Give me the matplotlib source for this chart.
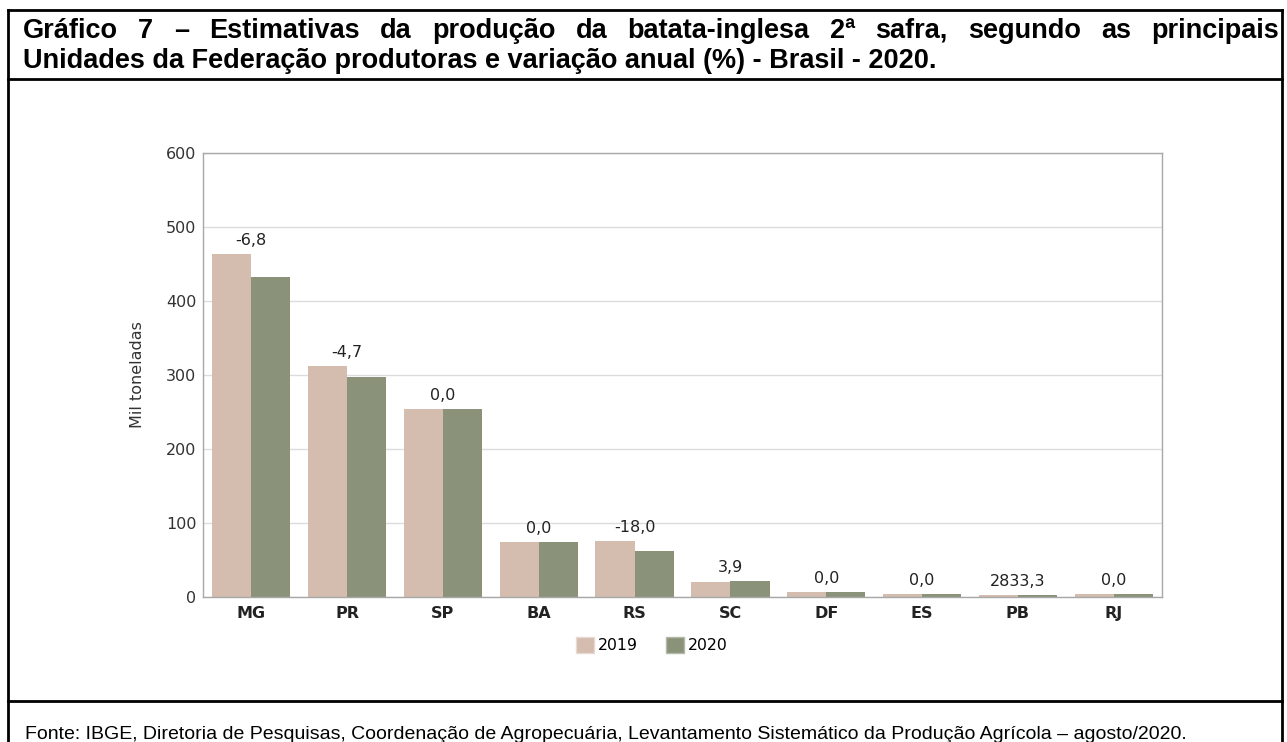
import numpy as np
import matplotlib.pyplot as plt
from matplotlib.patches import Patch
from matplotlib.lines import Line2D

# data (mil toneladas)
ufs = ['MG', 'PR', 'SP', 'BA', 'RS', 'SC', 'DF', 'ES', 'PB', 'RJ']
prod_2019 = [464.0, 313.0, 255.0, 74.3, 76.5, 20.8, 7.2, 4.0, 3.4, 4.0]
prod_2020 = [432.5, 298.3, 255.0, 74.3, 62.7, 21.6, 7.2, 4.0, 3.5, 4.0]
variacao = ['-6,8', '-4,7', '0,0', '0,0', '-18,0', '3,9', '0,0', '0,0', '2833,3', '0,0']

title_l1 = 'Gráfico 7 – Estimativas da produção da batata-inglesa 2ª safra, segundo as principais'
title_l2 = 'Unidades da Federação produtoras e variação anual (%) - Brasil - 2020.'
fonte = ('Fonte: IBGE, Diretoria de Pesquisas, Coordenação de Agropecuária, '
         'Levantamento Sistemático da Produção Agrícola – agosto/2020.')

c2019 = '#D4BCAF'
c2020 = '#8A937A'

W, H = 1287, 742
fig = plt.figure(figsize=(W / 100, H / 100), dpi=100)
plt.rcParams['font.family'] = ['DejaVu Sans']
title_fam = 'Liberation Sans'


def fx(px):
    return px / W


def fy(py):
    return (H - py) / H


# outer box lines
lw_box = 2.0
for (x0, y0, x1, y1) in [(8, 10, 1282, 10), (8, 79, 1282, 79), (8, 701, 1282, 701),
                         (8, 10, 8, H + 5), (1282, 10, 1282, H + 5)]:
    fig.add_artist(Line2D([fx(x0), fx(x1)], [fy(y0), fy(y1)], color='black',
                          lw=lw_box, solid_capstyle='projecting'))

renderer = fig.canvas.get_renderer()


def text_w(s, fs):
    t = fig.text(0, 0, s, fontsize=fs, weight='bold', family=title_fam)
    w = t.get_window_extent(renderer).width
    t.remove()
    return w


# title: first line justified between the box edges
x_left, x_right = 23, 1279
tfs = 19.5
words = title_l1.split(' ')
while True:
    widths = [text_w(w, tfs) for w in words]
    spw = text_w('a a', tfs) - text_w('aa', tfs)
    if sum(widths) + spw * (len(words) - 1) <= (x_right - x_left) or tfs < 12:
        break
    tfs -= 0.25
gap = (x_right - x_left - sum(widths)) / (len(words) - 1)
x = x_left
for w, wd in zip(words, widths):
    fig.text(fx(x), fy(38), w, fontsize=tfs, weight='bold', family=title_fam,
             ha='left', va='baseline')
    x += wd + gap
fig.text(fx(x_left), fy(68), title_l2, fontsize=tfs, weight='bold',
         family=title_fam, ha='left', va='baseline')

# footer
fig.text(fx(25), fy(739), fonte, fontsize=14, family='Liberation Sans',
         ha='left', va='baseline')

# chart
ax = fig.add_axes([fx(203.3), fy(597.3), 958.4 / W, (597.3 - 153.3) / H])
x = np.arange(len(ufs))
bw = 0.409
ax.bar(x - bw / 2, prod_2019, bw, color=c2019, label='2019', zorder=3)
ax.bar(x + bw / 2, prod_2020, bw, color=c2020, label='2020', zorder=3)

for i, lab in enumerate(variacao):
    top = max(prod_2019[i], prod_2020[i])
    ax.annotate(lab, xy=(i, top), xytext=(0, 6.5), textcoords='offset points',
                ha='center', va='baseline', fontsize=11.5, color='#222222')

ax.set_xlim(-0.5, len(ufs) - 0.5)
ax.set_ylim(0, 600)
ax.set_yticks(range(0, 601, 100))
ax.set_xticks(x)
ax.set_xticklabels(ufs, fontsize=11.5, weight='bold', color='#222222')
ax.tick_params(axis='y', length=0, pad=5, labelsize=11.5, labelcolor='#333333')
ax.tick_params(axis='x', length=0, pad=6)
ax.grid(axis='y', color='#DCDCDC', lw=1, zorder=0)
for s in ax.spines.values():
    s.set_color('#A8A8A8')
    s.set_linewidth(1)
    s.set_zorder(4)

fig.text(fx(138), fy(375), 'Mil toneladas', rotation=90, ha='center', va='center',
         fontsize=11.5, color='#333333')

handles = [Patch(facecolor=c2019, edgecolor='#E6DAD3', label='2019'),
           Patch(facecolor=c2020, edgecolor='#B4BAA8', label='2020')]
fig.legend(handles=handles, loc='center', bbox_to_anchor=(fx(652), fy(645)), ncol=2,
           frameon=False, fontsize=11.3, handlelength=1.12, handleheight=1.15,
           handletextpad=0.3, columnspacing=1.76, borderpad=0)

fig.savefig('out.png', dpi=100)
